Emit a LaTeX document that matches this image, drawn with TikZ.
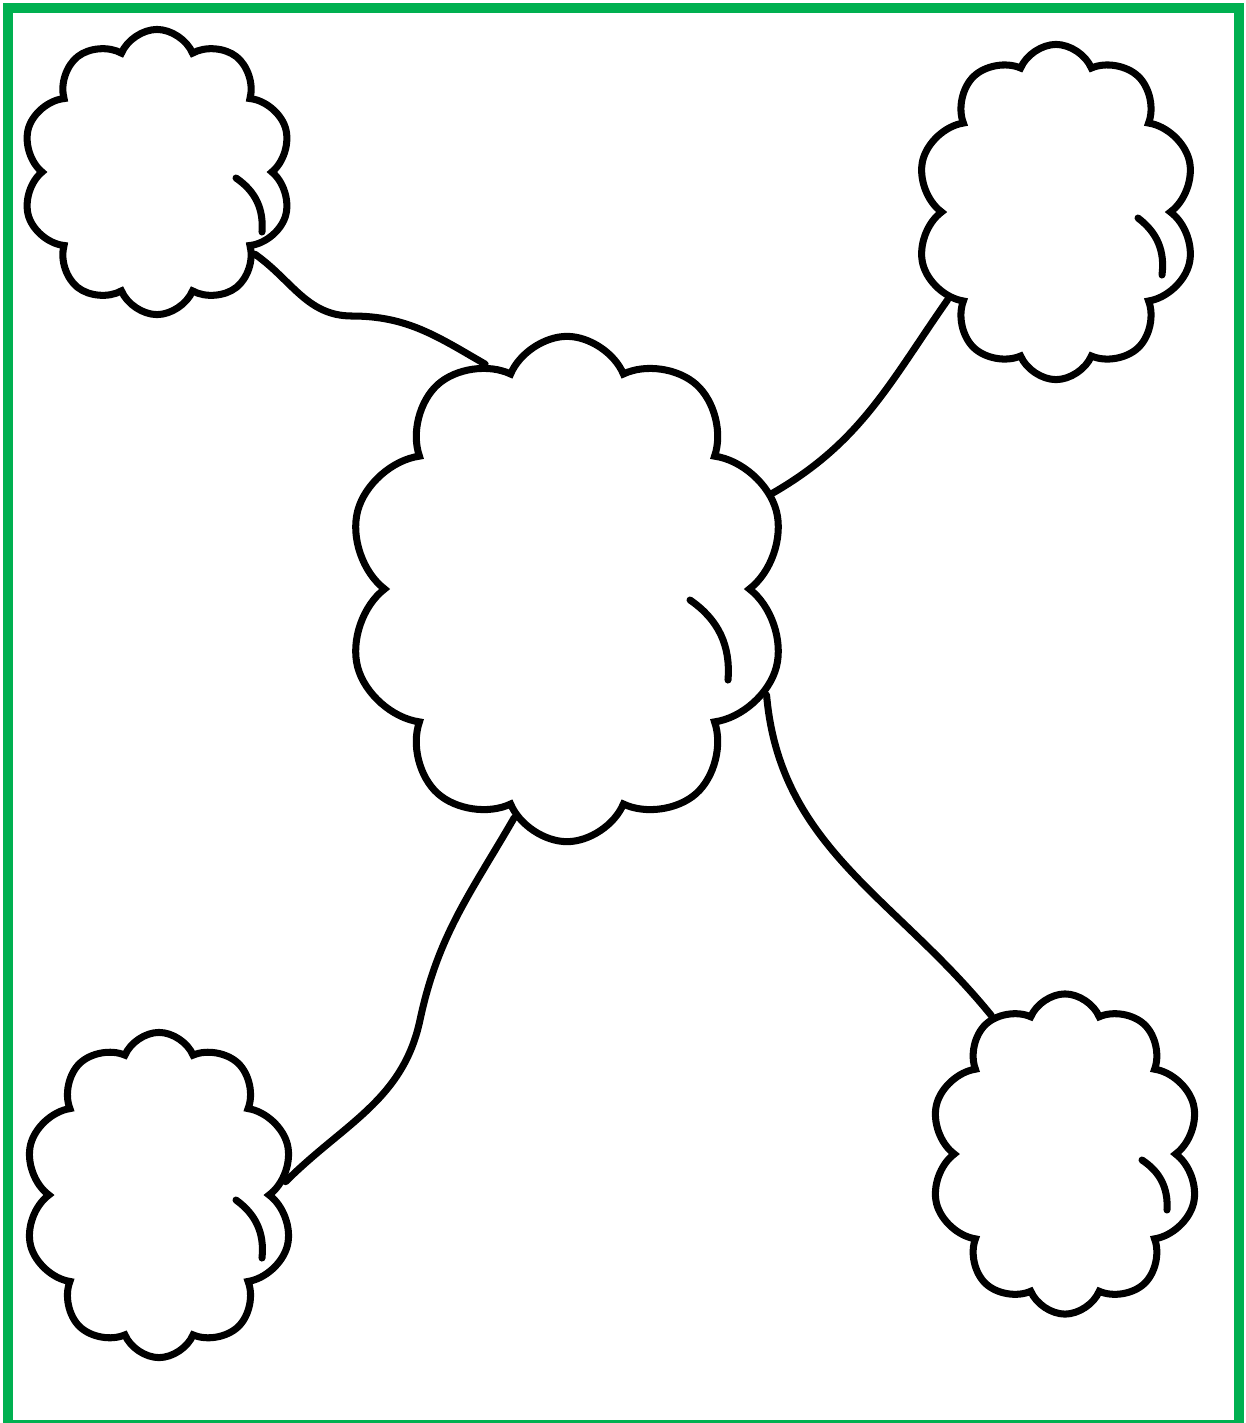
\documentclass[tikz,border=0pt]{standalone}
\usepackage[table,xcdraw]{xcolor}
\usepackage{tikz}
\usetikzlibrary{shapes,shapes.symbols,positioning,calc}
\definecolor{cadrevert}{RGB}{0,176,80}
\definecolor{traitnoir}{RGB}{0,0,0}
\tikzset{
  nuage/.style={cloud, cloud puffs=10, cloud puff arc=135, cloud ignores aspect,
                draw=traitnoir, line width=2pt, fill=white, inner sep=0pt},
  lien/.style={draw=traitnoir, line width=2pt, line cap=round}
}

\begin{document}
\begin{tikzpicture}[x=0.01cm, y=-0.01cm]
  \useasboundingbox (0,0) rectangle (1246,1423);
  \draw[cadrevert, line width=0.1cm] (8,8) rectangle (1239,1425);

  % nuages
  \node[nuage, minimum width=2.7cm, minimum height=2.85cm] (gauchehaut) at (157,172) {};
  \node[nuage, minimum width=2.8cm, minimum height=3.35cm] (droitehaut) at (1056,212) {};
  \node[nuage, minimum width=4.4cm, minimum height=5.05cm] (centre) at (567,589) {};
  \node[nuage, minimum width=2.7cm, minimum height=3.25cm] (gauchebas) at (159,1195) {};
  \node[nuage, minimum width=2.7cm, minimum height=3.2cm] (droitebas) at (1065,1154) {};

  % crochets interieurs
  \draw[lien] (gauchehaut.center) ++(79,6) to[bend left=30] ++(26,54);
  \draw[lien] (droitehaut.center) ++(82,6) to[bend left=30] ++(24,57);
  \draw[lien] (centre.center) ++(123,11) to[bend left=30] ++(38,80);
  \draw[lien] (gauchebas.center) ++(77,5) to[bend left=30] ++(26,58);
  \draw[lien] (droitebas.center) ++(77,6) to[bend left=30] ++(25,50);

  % liens
  \coordinate (pliGH) at (352,316);
  \coordinate (pliGB) at (420,1020);
  \draw[lien] (gauchehaut.-40) to[out=-35, in=180] (pliGH) to[out=0, in=150] (centre.110);
  \draw[lien] (centre.25) to[out=30, in=235] (droitehaut.-141);
  \draw[lien] (centre.257) to[out=240, in=78] (pliGB) to[out=258, in=45] (gauchebas.6);
  \draw[lien] (centre.-28) to[out=-85, in=129] (droitebas.118);
\end{tikzpicture}
\end{document}
